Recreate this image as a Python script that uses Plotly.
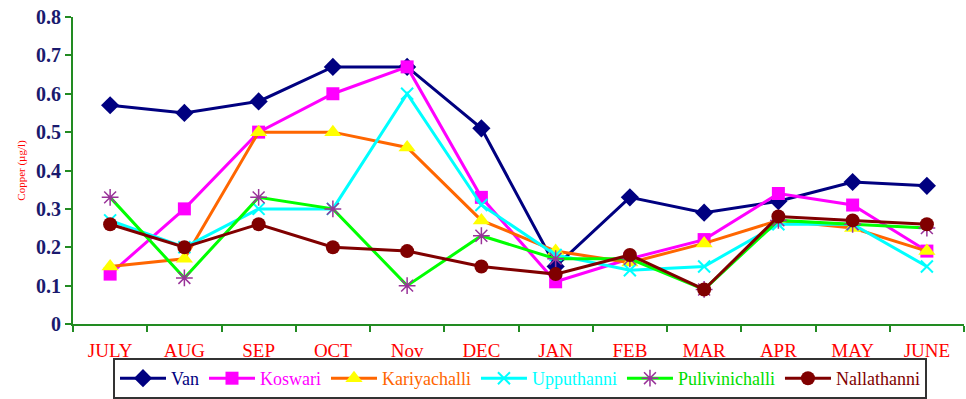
import plotly.graph_objects as go

months = ["JULY", "AUG", "SEP", "OCT", "Nov", "DEC", "JAN", "FEB", "MAR", "APR", "MAY", "JUNE"]
van = [0.57, 0.55, 0.58, 0.67, 0.67, 0.51, 0.15, 0.33, 0.29, 0.32, 0.37, 0.36]
koswari = [0.13, 0.30, 0.50, 0.60, 0.67, 0.33, 0.11, 0.17, 0.22, 0.34, 0.31, 0.19]
kariyachalli = [0.15, 0.17, 0.50, 0.50, 0.46, 0.27, 0.19, 0.16, 0.21, 0.27, 0.25, 0.19]
upputhanni = [0.27, 0.20, 0.30, 0.30, 0.60, 0.31, 0.18, 0.14, 0.15, 0.26, 0.26, 0.15]
pulivinichalli = [0.33, 0.12, 0.33, 0.30, 0.10, 0.23, 0.17, 0.17, 0.09, 0.27, 0.26, 0.25]
nallathanni = [0.26, 0.20, 0.26, 0.20, 0.19, 0.15, 0.13, 0.18, 0.09, 0.28, 0.27, 0.26]

series = [
    ("Van", van, "#000080", dict(symbol="diamond", size=14, color="#000080"), "#000080"),
    ("Koswari", koswari, "#FF00FF", dict(symbol="square", size=13, color="#FF00FF"), "#FF00FF"),
    ("Kariyachalli", kariyachalli, "#FF6600", dict(symbol="triangle-up", size=15, color="#FFFF00"), "#FF6600"),
    ("Upputhanni", upputhanni, "#00FFFF", dict(symbol="x-thin-open", size=12, line=dict(width=2, color="#00FFFF"), color="#00FFFF"), "#00FFFF"),
    ("Pulivinichalli", pulivinichalli, "#00FF00", dict(symbol="asterisk-open", size=14, line=dict(width=1.5, color="#993399"), color="#993399"), "#00DD00"),
    ("Nallathanni", nallathanni, "#800000", dict(symbol="circle", size=14, color="#800000"), "#800000"),
]

fig = go.Figure()
for name, vals, lc, mk, tc in series:
    fig.add_trace(go.Scatter(
        x=months, y=vals, mode="lines+markers",
        name=f"<span style='color:{tc}'>{name}</span>",
        line=dict(color=lc, width=3), marker=mk,
    ))

fig.update_layout(
    width=966, height=399,
    margin=dict(l=73, r=2, t=17, b=75),
    paper_bgcolor="white", plot_bgcolor="white",
    font=dict(family="Liberation Serif", size=15),
    showlegend=True,
    legend=dict(
        orientation="h", xref="container", yref="container",
        x=113 / 966, xanchor="left", y=-0.02, yanchor="bottom",
        bordercolor="#333333", borderwidth=2, bgcolor="white",
        font=dict(family="Liberation Serif", size=18),
        itemwidth=46, tracegroupgap=0, traceorder="normal",
    ),
    xaxis=dict(
        type="category", showgrid=False, showline=True, linecolor="#228B22", linewidth=2,
        ticks="outside", tickcolor="#228B22", ticklen=6, tickwidth=2,
        tickson="boundaries", ticklabelstandoff=8, automargin=False,
        tickfont=dict(color="#FF0000", family="Liberation Serif", size=19),
        range=[-0.5, 11.5],
    ),
    yaxis=dict(
        range=[0, 0.8], dtick=0.1, showgrid=False, showline=True, linecolor="#228B22", linewidth=2,
        ticks="outside", tickcolor="#228B22", ticklen=6, tickwidth=2, automargin=False,
        tickfont=dict(color="#1A1A6E", family="Liberation Serif", size=20, weight="bold"),
        tickformat=".1~f",
        title=dict(text="Copper (µg/l)", font=dict(color="#FF0000", size=11, family="Liberation Sans Narrow"), standoff=8),
        zeroline=False,
    ),
)

fig.write_html("out.html")
